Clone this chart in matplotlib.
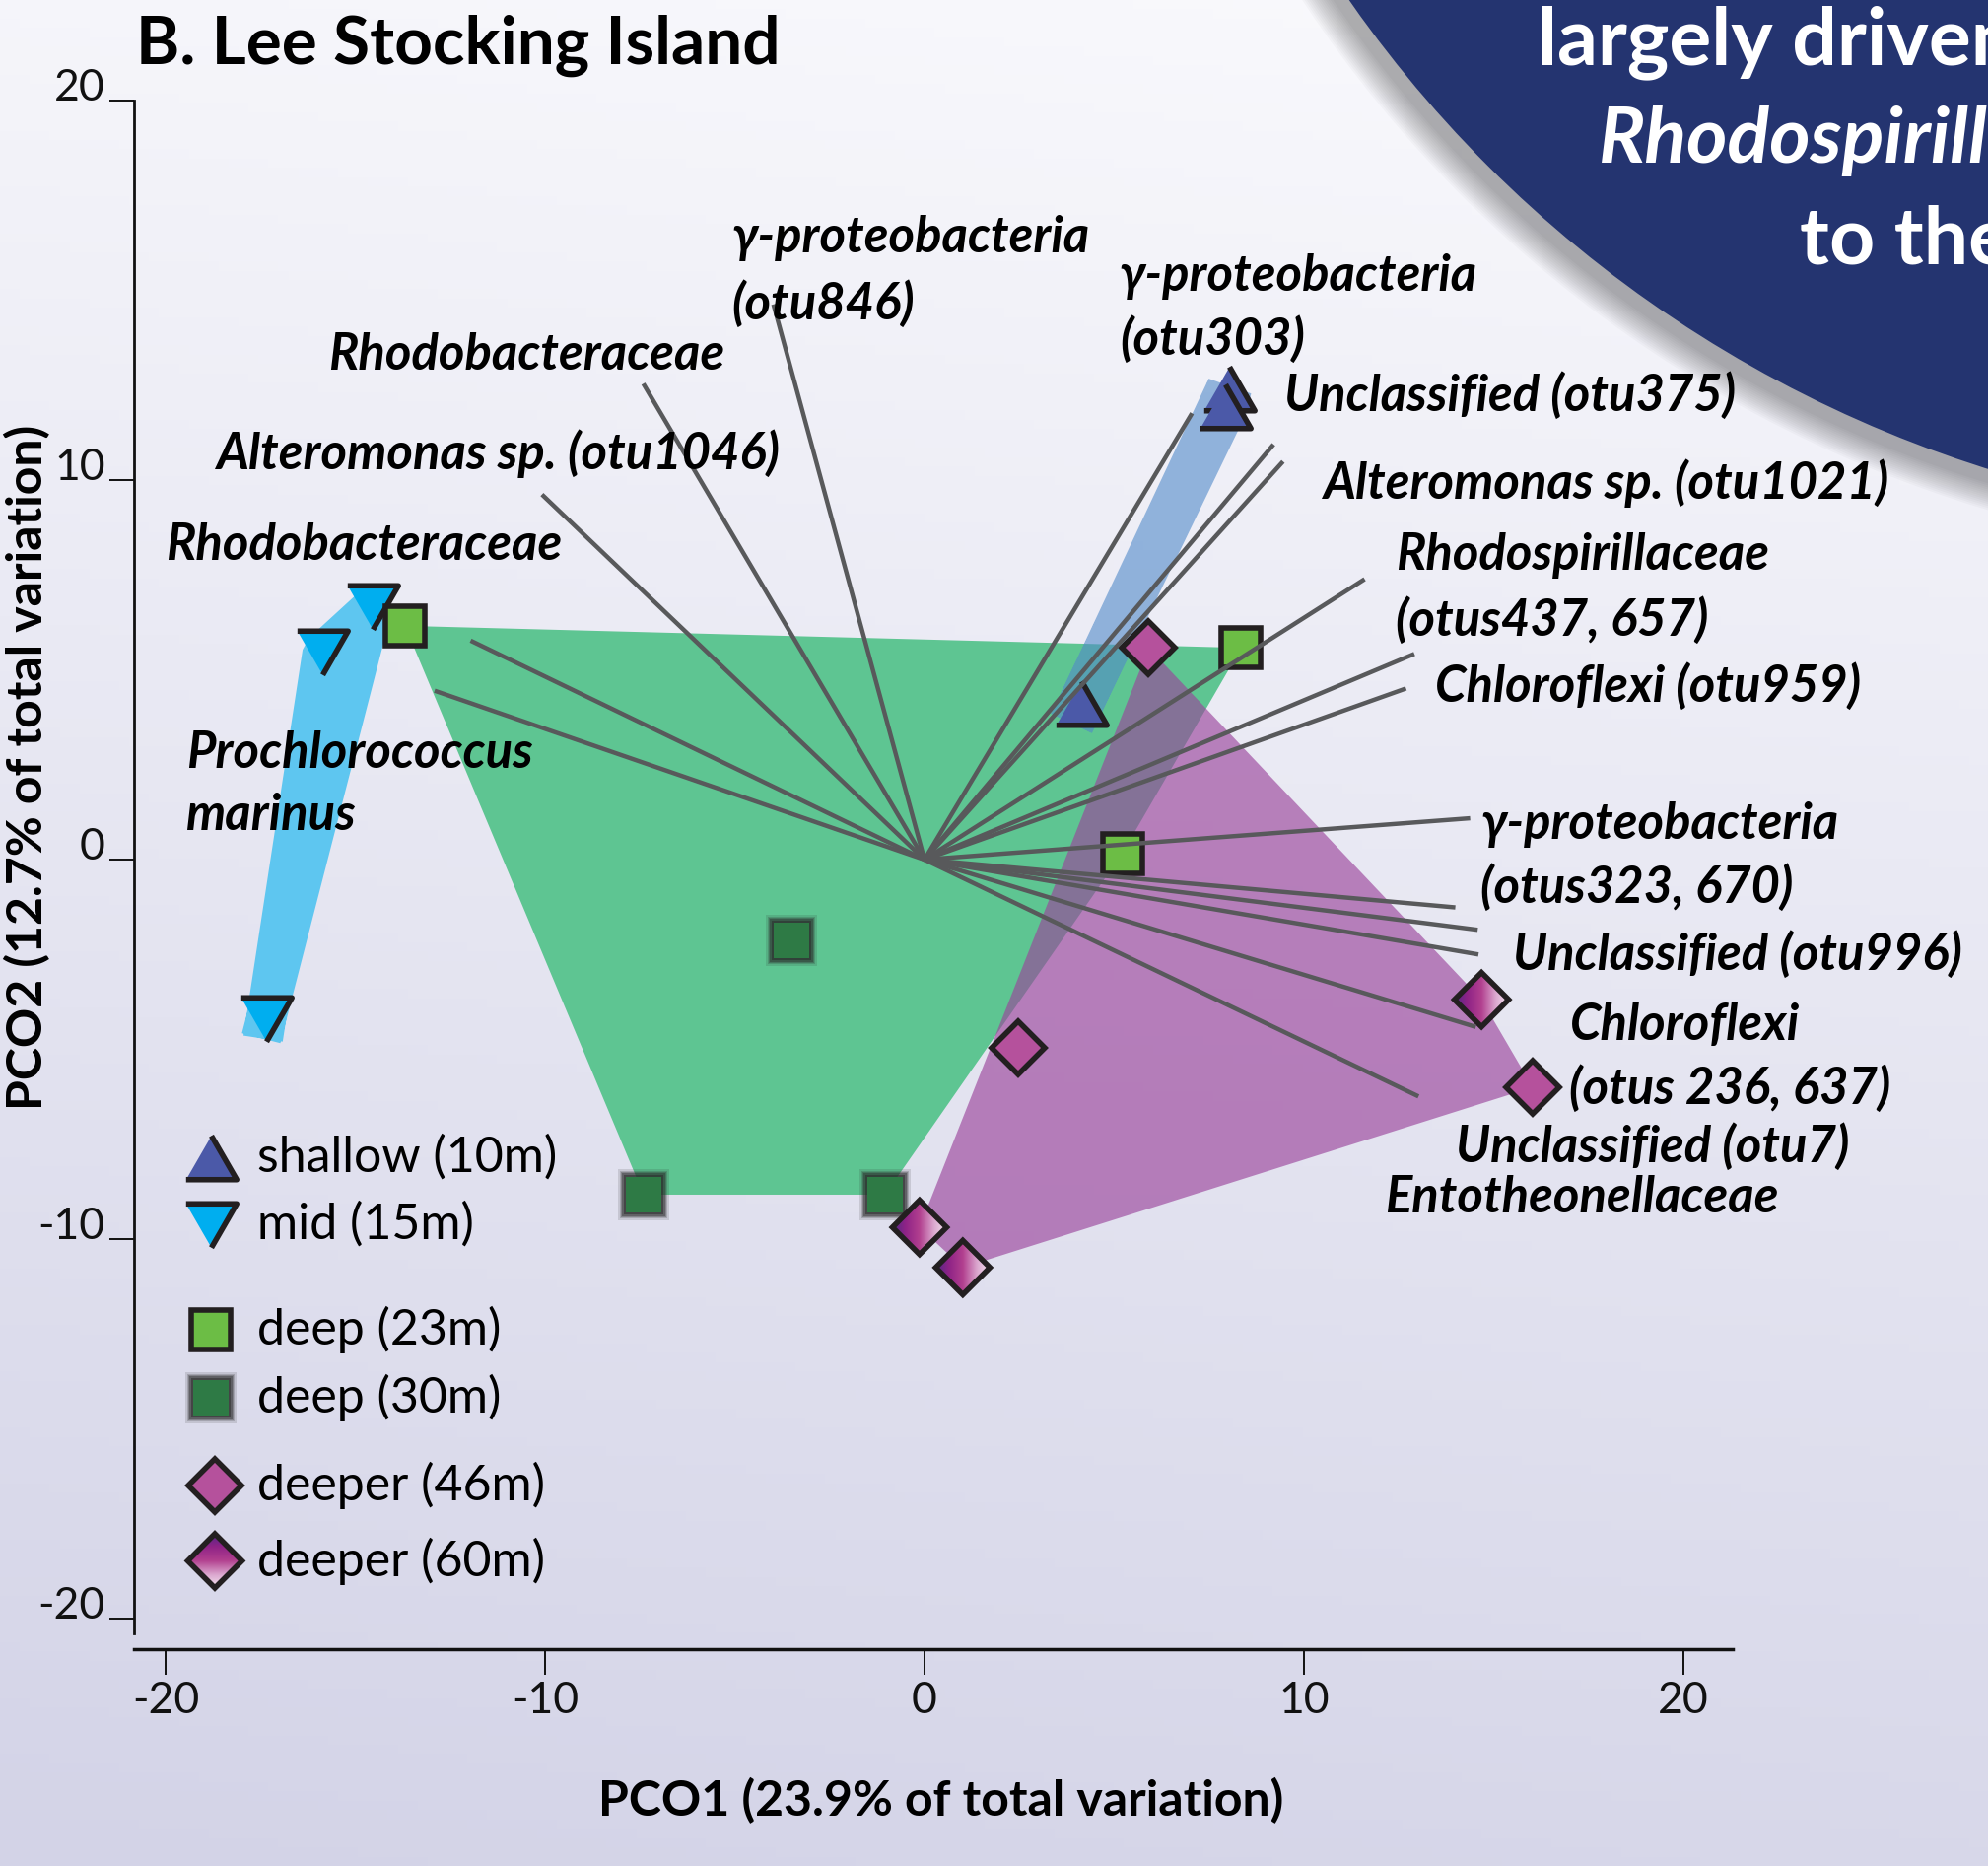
import numpy as np
import matplotlib
matplotlib.use("Agg")
import matplotlib.pyplot as plt
from matplotlib.patches import Polygon, Circle, PathPatch
from matplotlib.path import Path
from matplotlib import transforms
from matplotlib.colors import LinearSegmentedColormap

plt.rcParams['font.family'] = ['Lato', 'DejaVu Sans']
plt.rcParams['axes.unicode_minus'] = False

# ---- sample scores on PCO1 / PCO2, one pair of lists per depth group ----
shallow_10m_x = [8.03, 7.92, 4.13]
shallow_10m_y = [12.42, 11.96, 4.13]
mid_15m_x = [-14.55, -15.87, -17.35]
mid_15m_y = [6.66, 5.45, -4.20]
deep_23m_x = [-13.69, 8.35, 5.21]
deep_23m_y = [6.16, 5.58, 0.16]
deep_30m_x = [-3.50, -7.40, -1.04]
deep_30m_y = [-2.13, -8.83, -8.83]
deeper_46m_x = [5.91, 2.47, 16.03]
deeper_46m_y = [5.58, -4.95, -6.00]
deeper_60m_x = [14.68, -0.13, 1.01]
deeper_60m_y = [-3.69, -9.69, -10.75]

# ---- OTU correlation vectors (drawn from the origin) ----
vector_x = [-3.98, -7.41, -10.08, -11.96, -12.91, 7.05, 9.20, 9.45, 11.60,
            12.91, 12.69, 14.38, 13.99, 14.58, 14.60, 14.53, 13.02]
vector_y = [14.63, 12.54, 9.62, 5.77, 4.45, 11.76, 10.94, 10.49, 7.39,
            5.42, 4.51, 1.09, -1.26, -1.85, -2.50, -4.41, -6.24]

# ---- vector annotations ----
label_text = ["γ-proteobacteria", "(otu846)", "γ-proteobacteria", "(otu303)",
              "Rhodobacteraceae", "Unclassified (otu375)",
              "Alteromonas sp. (otu1046)", "Alteromonas sp. (otu1021)",
              "Rhodobacteraceae", "Rhodospirillaceae", "(otus437, 657)",
              "Chloroflexi (otu959)", "Prochlorococcus", "marinus",
              "γ-proteobacteria", "(otus323, 670)", "Unclassified (otu996)",
              "Chloroflexi", "(otus 236, 637)", "Unclassified (otu7)",
              "Entotheonellaceae"]
label_x = [-5.08, -5.08, 5.14, 5.14, -15.71, 9.48, -18.68, 10.49, -19.99,
           12.42, 12.42, 13.46, -19.45, -19.45, 14.66, 14.66, 15.50, 17.00,
           17.00, 14.00, 12.12]
label_y = [16.37, 14.63, 15.37, 13.69, 13.29, 12.22, 10.69, 9.92, 8.28,
           8.01, 6.31, 4.57, 2.80, 1.16, 0.93, -0.74, -2.51, -4.38,
           -6.05, -7.56, -8.93]

group_names = ["shallow (10m)", "mid (15m)", "deep (23m)", "deep (30m)",
               "deeper (46m)", "deeper (60m)"]
ticks = [-20, -10, 0, 10, 20]

# ---- styling ----
W, H, DPI = 2017, 1893, 100
PX = DPI / 72.0
EDGE = '#231f20'
VEC = '#58595b'
NAVY = '#243470'
TRI = '#4b59a8'
CYAN = '#00aeef'
LIME = '#6cbd45'
DKGREEN = '#2e7a45'
MAGENTA = '#b5519c'
grad_cmap = LinearSegmentedColormap.from_list(
    'deep60', ['#4a2a88', '#8e2386', '#b2408f', '#dba7cf', '#f7ecf3'])

tri_up = [(-1, -0.866), (1, -0.866), (0, 0.866)]
tri_down = [(-1, 0.866), (1, 0.866), (0, -0.866)]
TRI_MS, SQ_MS, DIA_MS, MEW = 37, 29, 28, 4.0
LABEL_FS = 36.5


def convex_hull(xs, ys):
    pts = sorted(set(zip(xs, ys)))
    if len(pts) < 3:
        return pts

    def cross(o, a, b):
        return (a[0] - o[0]) * (b[1] - o[1]) - (a[1] - o[1]) * (b[0] - o[0])
    lower, upper = [], []
    for p in pts:
        while len(lower) >= 2 and cross(lower[-2], lower[-1], p) <= 0:
            lower.pop()
        lower.append(p)
    for p in reversed(pts):
        while len(upper) >= 2 and cross(upper[-2], upper[-1], p) <= 0:
            upper.pop()
        upper.append(p)
    return lower[:-1] + upper[:-1]


fig = plt.figure(figsize=(W / DPI, H / DPI), dpi=DPI)

# page background
bg = fig.add_axes([0, 0, 1, 1], zorder=0)
gy, gx = np.mgrid[0:1:200j, 0:1:200j]
t = np.clip(0.88 * (1 - gy) + 0.12 * (1 - gx), 0, 1)
top = np.array([250, 250, 253]) / 255.0
bot = np.array([211, 211, 231]) / 255.0
bg_img = top[None, None, :] * (1 - t[..., None]) + bot[None, None, :] * t[..., None]
bg.imshow(bg_img, extent=[0, 1, 0, 1], origin='lower', aspect='auto')
bg.set_axis_off()

# main ordination axes
ax = fig.add_axes([136 / W, (H - 1672.8) / H, 1622 / W, 1582.3 / H], zorder=1)
ax.patch.set_visible(False)
XLIM, YLIM = (-20.83, 21.3), (-20.8, 20.3)

# group hulls
hx, hy = zip(*convex_hull(mid_15m_x, mid_15m_y))
ax.fill(hx, hy, color='#5ec6f0', zorder=1, lw=0)
ax.plot(list(hx) + [hx[0]], list(hy) + [hy[0]], color='#5ec6f0', lw=29,
        solid_joinstyle='bevel', zorder=1)

green_hull = convex_hull(deep_23m_x + deep_30m_x, deep_23m_y + deep_30m_y)
ax.add_patch(Polygon(green_hull, closed=True, facecolor='#5ec592', lw=0, zorder=2))

purple_hull = convex_hull(deeper_46m_x + deeper_60m_x, deeper_46m_y + deeper_60m_y)
ax.add_patch(Polygon(purple_hull, closed=True, facecolor='#9a439b', alpha=0.64,
                     lw=0, zorder=3))

sx, sy = zip(*convex_hull(shallow_10m_x, shallow_10m_y))
ax.plot(list(sx) + [sx[0]], list(sy) + [sy[0]], color='#518ac9', alpha=0.6,
        lw=33, solid_joinstyle='bevel', zorder=4)


def fuzzy_square(x, y, core=26):
    for extra, a in zip([11, 9, 7, 5, 3], [0.14, 0.2, 0.28, 0.38, 0.5]):
        ax.plot(x, y, ls='none', marker='s', ms=core + extra, mew=0,
                color='#2a2a2a', alpha=a, zorder=5)
    ax.plot(x, y, ls='none', marker='s', ms=core, mew=0, color=DKGREEN, zorder=5.1)


def gradient_diamond(x, y, vertical=False):
    r_px = DIA_MS * PX * np.sqrt(2) / 2
    path = Path([(0, 1), (1, 0), (0, -1), (-1, 0), (0, 1)], closed=True)
    trans = transforms.Affine2D().scale(r_px) + transforms.ScaledTranslation(x, y, ax.transData)
    patch = PathPatch(path, transform=trans, facecolor='none', edgecolor=EDGE,
                      lw=MEW, zorder=5.2)
    patch.set_joinstyle('miter')
    ax.add_patch(patch)
    rd = r_px / 38.5 * 1.05
    if vertical:
        arr = np.linspace(1, 0, 256)[:, None] * np.ones((1, 8))
    else:
        arr = np.linspace(0, 1, 256)[None, :] * np.ones((8, 1))
    img = ax.imshow(arr, cmap=grad_cmap, vmin=0, vmax=1, origin='lower',
                    extent=[x - rd, x + rd, y - rd, y + rd], aspect='auto',
                    interpolation='bilinear', zorder=5.1)
    img.set_clip_path(patch)


# sample markers
ax.plot(shallow_10m_x, shallow_10m_y, ls='none', marker=tri_up, ms=TRI_MS,
        mfc=TRI, mec=EDGE, mew=MEW, zorder=5)
ax.plot(mid_15m_x, mid_15m_y, ls='none', marker=tri_down, ms=TRI_MS,
        mfc=CYAN, mec=EDGE, mew=MEW, zorder=5)
ax.plot(deep_23m_x, deep_23m_y, ls='none', marker='s', ms=SQ_MS,
        mfc=LIME, mec=EDGE, mew=MEW, zorder=5)
for x, y in zip(deep_30m_x, deep_30m_y):
    fuzzy_square(x, y)
ax.plot(deeper_46m_x, deeper_46m_y, ls='none', marker='D', ms=DIA_MS,
        mfc=MAGENTA, mec=EDGE, mew=MEW, zorder=5)
for x, y in zip(deeper_60m_x, deeper_60m_y):
    gradient_diamond(x, y)

# OTU vectors
for vx, vy in zip(vector_x, vector_y):
    ax.plot([0, vx], [0, vy], color=VEC, lw=3.2, solid_capstyle='butt', zorder=6)

# vector labels
for txt, lx, ly in zip(label_text, label_x, label_y):
    ax.text(lx, ly, txt, fontsize=LABEL_FS, fontweight='bold', fontstyle='italic',
            ha='left', va='center', color='black', zorder=7)

# legend
LEG_MX, LEG_TX = -18.8, -17.58
legend_y = [-7.85, -9.63, -12.38, -14.17, -16.5, -18.48]
ax.plot(LEG_MX, legend_y[0], marker=tri_up, ms=TRI_MS, mfc=TRI, mec=EDGE, mew=MEW, zorder=5)
ax.plot(LEG_MX, legend_y[1], marker=tri_down, ms=TRI_MS, mfc=CYAN, mec=EDGE, mew=MEW, zorder=5)
ax.plot(LEG_MX, legend_y[2], marker='s', ms=SQ_MS, mfc=LIME, mec=EDGE, mew=MEW, zorder=5)
fuzzy_square(LEG_MX, legend_y[3])
ax.plot(LEG_MX + 0.1, legend_y[4], marker='D', ms=DIA_MS, mfc=MAGENTA, mec=EDGE, mew=MEW, zorder=5)
gradient_diamond(LEG_MX + 0.1, legend_y[5], vertical=True)
for name, ly in zip(group_names, legend_y):
    ax.text(LEG_TX, ly, name, fontsize=36, ha='left', va='center', color='black', zorder=7)

# axes
ax.set_xlim(*XLIM)
ax.set_ylim(*YLIM)
ax.set_xticks(ticks)
ax.set_yticks(ticks)
ax.set_xticklabels([str(v) for v in ticks])
ax.set_yticklabels([str(v) for v in ticks])
for s in ['top', 'right']:
    ax.spines[s].set_visible(False)
ax.spines['left'].set_bounds(-20.4, 20)
ax.spines['left'].set_linewidth(2.0)
ax.spines['bottom'].set_linewidth(2.5)
ax.spines['left'].set_color('#111111')
ax.spines['bottom'].set_color('#111111')
ax.tick_params(axis='y', direction='out', length=18, width=1.4, pad=3,
               labelsize=32, colors='#111111')
ax.tick_params(axis='x', direction='out', length=19, width=1.4, pad=4,
               labelsize=32, colors='#111111')
for lab in ax.get_yticklabels():
    lab.set_verticalalignment('baseline')

# titles
fig.text(138 / W, 1 - 46 / H, "B. Lee Stocking Island", fontsize=48.5,
         fontweight='bold', ha='left', va='center', color='black')
fig.text(955 / W, 1 - 1827 / H, "PCO1 (23.9% of total variation)", fontsize=36,
         fontweight='bold', ha='center', va='center', color='black')
fig.text(28 / W, 1 - 778 / H, "PCO2 (12.7% of total variation)", fontsize=36,
         fontweight='bold', ha='center', va='center', rotation=90, color='black')

# navy banner disc in the corner
ov = fig.add_axes([0, 0, 1, 1], zorder=3)
ov.set_xlim(0, W)
ov.set_ylim(H, 0)
ov.set_axis_off()
ov.patch.set_visible(False)
CX, CY, R = 2390, -712, 1245
for i in range(14):
    ov.add_patch(Circle((CX - 8, CY + 12), R + 2 * i, facecolor='black',
                        edgecolor='none', alpha=0.022))
ov.add_patch(Circle((CX, CY), R, facecolor=NAVY, edgecolor='none'))
ov.text(1560, 65, "largely driven", fontsize=58, fontweight='bold',
        color='white', ha='left', va='baseline')
ov.text(1622, 165, "Rhodospirill", fontsize=57, fontweight='bold',
        fontstyle='italic', color='white', ha='left', va='baseline')
ov.text(1826, 267, "to the", fontsize=58, fontweight='bold',
        color='white', ha='left', va='baseline')

fig.savefig("out.png", dpi=DPI)
